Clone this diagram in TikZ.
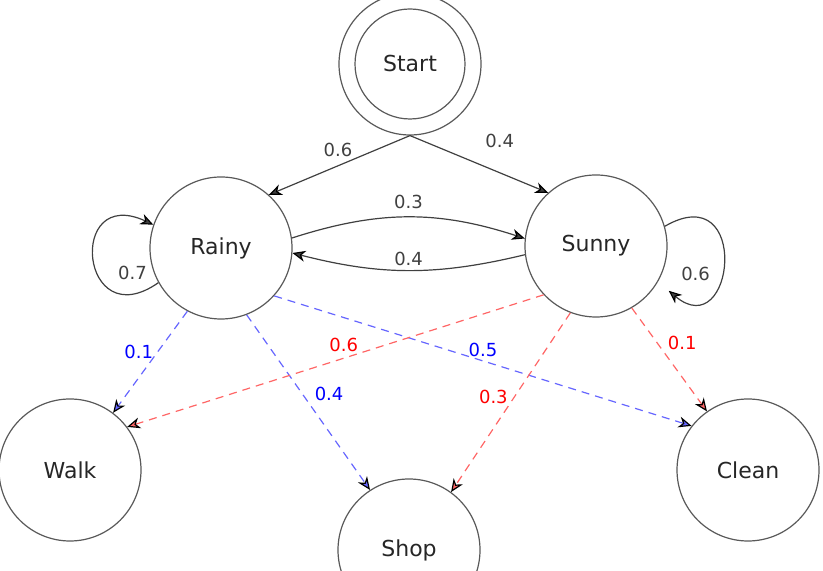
\documentclass[tikz,border=0pt]{standalone}
\usepackage{fontspec}
\setmainfont{DejaVu Sans}
\usetikzlibrary{arrows.meta}

\begin{document}
\begin{tikzpicture}[x=0.5pt, y=0.5pt, line width=0.6pt,
  >={Stealth[length=6.5pt, width=5.5pt, inset=2pt, color=black]},
  lbl/.style={font=\fontsize{9}{10}\selectfont, inner sep=2pt},
  rainyemit/.style={blue!60, dash pattern=on 4pt off 3pt},
  sunnyemit/.style={red!60, dash pattern=on 4pt off 3pt}]

\useasboundingbox (0,0) rectangle (823,571);

\begin{scope}[circle, draw=black!65, text=black!85, minimum size=71pt, inner sep=0pt, font=\fontsize{11}{13}\selectfont]
  \node[draw] (startout) at (410,507) {};
  \node[draw, minimum size=55pt] (start) at (410,507) {Start};
  \node[draw] (rainy) at (221,323) {Rainy};
  \node[draw] (sunny) at (596,325) {Sunny};
  \node[draw] (walk) at (70,101) {Walk};
  \node[draw] (shop) at (409,21) {Shop};
  \node[draw] (clean) at (748,101) {Clean};
\end{scope}

\path[->, black!75]
  (startout.south) edge node[lbl, pos=0.51, above=2pt] {0.6} (rainy.48)
  (startout.south) edge node[lbl, pos=0.65, above=10pt] {0.4} (sunny.132)
  (rainy.8) edge[bend left=18] node[lbl, above=2pt] {0.3} (sunny.174)
  (sunny.187) edge[bend left=14] node[lbl, above] {0.4} (rainy.-4)
  (rainy.209) edge[out=215, in=155, distance=48pt] node[lbl, pos=0.18, above=5pt, xshift=5pt] {0.7} (rainy.161)
  (sunny.16) edge[out=30, in=-40, distance=50pt, shorten >=7pt] node[lbl, pos=0.75, above=4pt, xshift=-4pt] {0.6} (sunny.-30);

\path[->, rainyemit]
  (rainy.242) edge node[lbl, text=blue, pos=0.4, left] {0.1} (walk.53)
  (rainy.-69) edge node[lbl, text=blue, pos=0.45, right=4pt] {0.4} (shop.123)
  (rainy.-42) edge node[lbl, text=blue, pos=0.5, above] {0.5} (clean.142);

\path[->, sunnyemit]
  (sunny.223) edge node[lbl, text=red, pos=0.48, above=1pt] {0.6} (walk.37)
  (sunny.249) edge node[lbl, text=red, pos=0.47, left=1pt] {0.3} (shop.54)
  (sunny.-60) edge node[lbl, text=red, pos=0.34, right=3pt] {0.1} (clean.125);

\end{tikzpicture}
\end{document}
